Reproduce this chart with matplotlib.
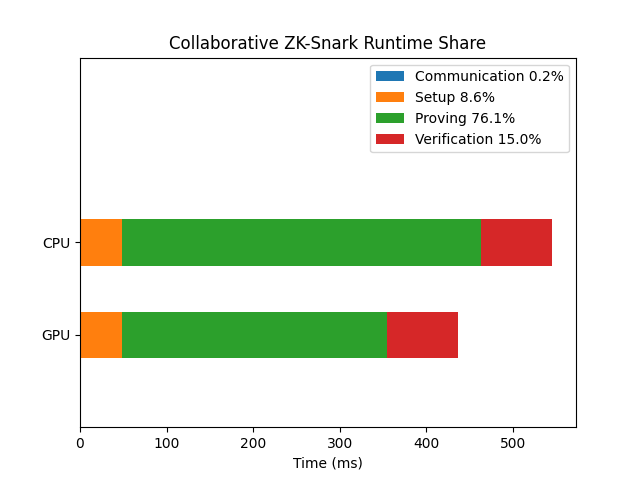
import matplotlib
matplotlib.use("Agg")
import matplotlib.pyplot as plt
import numpy as np

devices = ["GPU", "CPU"]
communication = [1.0, 1.0]
setup = [47.0, 47.0]
proving = [307.0, 415.5]
verification = [82.0, 82.0]

stages = [
    ("Communication 0.2%", communication),
    ("Setup 8.6%", setup),
    ("Proving 76.1%", proving),
    ("Verification 15.0%", verification),
]

fig, ax = plt.subplots(figsize=(6.4, 4.8), dpi=100)
y = np.arange(len(devices))
left = np.zeros(len(devices))
for label, vals in stages:
    ax.barh(y, vals, height=0.5, left=left, label=label)
    left += np.array(vals)

ax.set_yticks(y)
ax.set_yticklabels(devices)
ax.set_ylim(-1, 3)
ax.set_xlabel("Time (ms)")
ax.set_title("Collaborative ZK-Snark Runtime Share")
ax.legend(loc="upper right")

plt.savefig("out.png")
